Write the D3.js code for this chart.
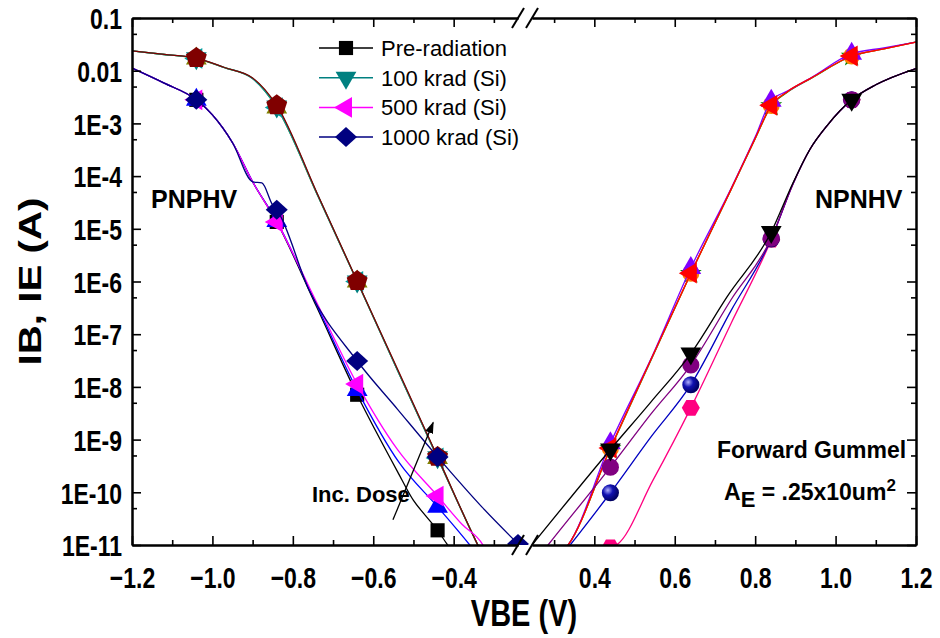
<!DOCTYPE html>
<html>
<head>
<meta charset="utf-8">
<script src="https://cdn.jsdelivr.net/npm/d3@7"></script>
<style>
  body { margin: 0; background: #fff; }
  svg { display: block; font-family: Arial, "Liberation Sans", sans-serif; }
  .lbl text { font-weight: bold; font-size: 23px; fill: #000; font-family: Arial, "Liberation Sans", sans-serif; }
  .axis path, .axis line { stroke: #000; }
</style>
</head>
<body>
<script>
// ---- tick values ----
const xMajorLeft = [-1.2, -1.0, -0.8, -0.6, -0.4];
const xMinorLeft = [-1.1, -0.9, -0.7, -0.5, -0.3];
const xMajorRight = [0.4, 0.6, 0.8, 1.0, 1.2];
const xMinorRight = [0.3, 0.5, 0.7, 0.9, 1.1];
const yMajor = [0.1, 0.01, 1e-3, 1e-4, 1e-5, 1e-6, 1e-7, 1e-8, 1e-9, 1e-10, 1e-11];
const yMinor = [5e-2, 5e-3, 5e-4, 5e-5, 5e-6, 5e-7, 5e-8, 5e-9, 5e-10, 5e-11];
const yLabels = ['0.1', '0.01', '1E-3', '1E-4', '1E-5', '1E-6', '1E-7', '1E-8', '1E-9', '1E-10', '1E-11'];

// marker voltages (symbols every 0.2 V)
const markVolts = [-1.04, -0.84, -0.64, -0.44, -0.24, 0.44, 0.64, 0.84, 1.04];

// ---- PNPHV, upper curves [VBE, I] ----
const pnpHiPre = [[-1.2, 0.0237], [-1.12, 0.0203], [-1.04, 0.0172], [-0.97, 0.0115], [-0.9, 0.0072], [-0.84, 0.0021], [-0.74, 4.7e-5], [-0.64, 1.0e-6], [-0.54, 2.1e-8], [-0.44, 4.6e-10], [-0.34, 1e-11], [-0.33, 7e-12]];
const pnpHi100 = [[-1.2, 0.0237], [-1.12, 0.0203], [-1.04, 0.0170], [-0.97, 0.0114], [-0.9, 0.0071], [-0.84, 0.0020], [-0.74, 4.6e-5], [-0.64, 1.0e-6], [-0.54, 2.1e-8], [-0.44, 4.5e-10], [-0.34, 1e-11], [-0.33, 7e-12]];
const pnpHi500 = [[-1.2, 0.0237], [-1.12, 0.0203], [-1.04, 0.0171], [-0.97, 0.0114], [-0.9, 0.0070], [-0.84, 0.0020], [-0.74, 4.6e-5], [-0.64, 1.0e-6], [-0.54, 2.1e-8], [-0.44, 4.5e-10], [-0.34, 1e-11], [-0.33, 7e-12]];
const pnpHi1000 = [[-1.2, 0.0237], [-1.12, 0.0204], [-1.04, 0.0174], [-0.97, 0.0115], [-0.9, 0.0073], [-0.84, 0.0022], [-0.74, 4.8e-5], [-0.64, 1.02e-6], [-0.54, 2.2e-8], [-0.44, 4.7e-10], [-0.34, 1e-11], [-0.33, 7e-12]];

// ---- PNPHV, lower curves ----
const pnpLoPre = [[-1.2, 0.0112], [-1.12, 0.0058], [-1.04, 0.0028], [-1.0, 0.00145], [-0.95, 4.3e-4], [-0.9, 7.8e-5], [-0.84, 1.35e-5], [-0.74, 3.2e-7], [-0.64, 7.1e-9], [-0.54, 2.5e-10], [-0.5, 7e-11], [-0.47, 3.6e-11], [-0.44, 1.9e-11], [-0.415, 1e-11], [-0.4, 7e-12]];
const pnpLo100 = [[-1.2, 0.0112], [-1.12, 0.0058], [-1.04, 0.0028], [-1.0, 0.00145], [-0.95, 4.3e-4], [-0.9, 7.8e-5], [-0.84, 1.4e-5], [-0.74, 3.5e-7], [-0.64, 8.7e-9], [-0.535, 3.6e-10], [-0.44, 5.3e-11], [-0.36, 1e-11], [-0.35, 8e-12]];
const pnpLo500 = [[-1.2, 0.0112], [-1.12, 0.0058], [-1.04, 0.0028], [-1.0, 0.00145], [-0.95, 4.3e-4], [-0.9, 7.8e-5], [-0.84, 1.35e-5], [-0.74, 3.9e-7], [-0.64, 1.13e-8], [-0.54, 6.5e-10], [-0.44, 8.5e-11], [-0.38, 2.5e-11], [-0.327, 1e-11], [-0.32, 8e-12]];
const pnpLo1000 = [[-1.2, 0.0112], [-1.12, 0.0058], [-1.04, 0.0028], [-1.0, 0.00145], [-0.95, 4.3e-4], [-0.9, 7.8e-5], [-0.877, 7.4e-5], [-0.85, 2.8e-5], [-0.84, 2.3e-5], [-0.76, 7e-7], [-0.64, 3.1e-8], [-0.54, 3.8e-9], [-0.44, 4.7e-10], [-0.33, 5.3e-11], [-0.24, 1.05e-11]];

// ---- NPNHV, upper curves ----
const npnHiGreen = [[0.325, 8e-12], [0.335, 1e-11], [0.44, 6.7e-10], [0.54, 3.1e-8], [0.64, 1.42e-6], [0.74, 5.5e-5], [0.8, 5.1e-4], [0.84, 2.15e-3], [0.88, 3.9e-3], [0.94, 7.2e-3], [1.04, 0.0188], [1.12, 0.026], [1.2, 0.035]];
const npnHiOrange = [[0.325, 8e-12], [0.335, 1e-11], [0.44, 6.8e-10], [0.54, 3.2e-8], [0.64, 1.43e-6], [0.74, 5.6e-5], [0.8, 5.2e-4], [0.84, 2.2e-3], [0.88, 4.0e-3], [0.94, 7.3e-3], [1.04, 0.019], [1.12, 0.026], [1.2, 0.035]];
const npnHiPurple = [[0.325, 8e-12], [0.335, 1e-11], [0.44, 8.5e-10], [0.54, 3.3e-8], [0.64, 1.8e-6], [0.74, 5.8e-5], [0.8, 5.5e-4], [0.84, 2.7e-3], [0.88, 4.1e-3], [0.94, 7.4e-3], [1.04, 0.021], [1.12, 0.027], [1.2, 0.035]];
const npnHiRed = [[0.325, 8e-12], [0.335, 1e-11], [0.44, 6.9e-10], [0.54, 3.2e-8], [0.64, 1.44e-6], [0.74, 5.6e-5], [0.8, 5.2e-4], [0.84, 2.2e-3], [0.88, 4.0e-3], [0.94, 7.3e-3], [1.04, 0.019], [1.12, 0.026], [1.2, 0.035]];

// ---- NPNHV, lower curves ----
const npnLoBlack = [[0.245, 1e-11], [0.44, 6.5e-10], [0.54, 5.1e-9], [0.64, 4.3e-8], [0.73, 5.1e-7], [0.84, 8.7e-6], [0.894, 7.4e-5], [0.936, 3.2e-4], [0.98, 9.3e-4], [1.04, 0.0028], [1.1, 5.4e-3], [1.2, 0.011]];
const npnLoPurple = [[0.275, 8e-12], [0.285, 1e-11], [0.44, 3e-10], [0.54, 3e-9], [0.64, 2.6e-8], [0.74, 4.5e-7], [0.84, 6.6e-6], [0.894, 7.2e-5], [0.936, 3.2e-4], [0.98, 9.3e-4], [1.04, 0.0028], [1.1, 5.4e-3], [1.2, 0.011]];
const npnLoBlue = [[0.33, 8e-12], [0.34, 1e-11], [0.44, 9.8e-11], [0.54, 1.1e-9], [0.64, 1.1e-8], [0.74, 2.8e-7], [0.84, 6.4e-6], [0.894, 7.1e-5], [0.936, 3.2e-4], [0.98, 9.3e-4], [1.04, 0.0028], [1.1, 5.4e-3], [1.2, 0.011]];
const npnLoPink = [[0.44, 9e-12], [0.455, 1e-11], [0.546, 1.7e-10], [0.64, 4e-9], [0.74, 1.6e-7], [0.84, 6.2e-6], [0.894, 7e-5], [0.936, 3.2e-4], [0.98, 9.3e-4], [1.04, 0.0028], [1.1, 5.4e-3], [1.2, 0.011]];

const legendNames = ['Pre-radiation', '100 krad (Si)', '500 krad (Si)', '1000 krad (Si)'];

// symbol shapes -----------------------------------------------------------
function poly(n, r, rot) {
  const pts = d3.range(n).map(i => {
    const a = rot + i * 2 * Math.PI / n;
    return [r * Math.sin(a), -r * Math.cos(a)];
  });
  return 'M' + pts.join('L') + 'Z';
}
const shapes = {
  square: poly(4, 10, Math.PI / 4),
  up: poly(3, 12, 0),
  down: poly(3, 12, Math.PI),
  left: poly(3, 12, -Math.PI / 2),
  diamond: 'M-11,0L0,-10L11,0L0,10Z',
  pentagon: poly(5, 11, 0),
  hexagon: poly(6, 9, Math.PI / 6),
  circle: d3.symbol(d3.symbolCircle, 230)(),
  star: d3.symbol(d3.symbolStar, 150)()
};

// drawn in this order (later on top)
const series = [
  { data: pnpHiPre, color: '#008080', shape: 'down' },
  { data: pnpHi100, color: '#808000', shape: 'up' },
  { data: pnpHi500, color: '#00A0A0', shape: 'left' },
  { data: pnpHi1000, color: '#800000', shape: 'pentagon' },
  { data: pnpLoPre, color: '#000000', shape: 'square' },
  { data: pnpLo100, color: '#0000FF', shape: 'up' },
  { data: pnpLo500, color: '#FF00FF', shape: 'left' },
  { data: pnpLo1000, color: '#000080', shape: 'diamond' },
  { data: npnHiGreen, color: '#008000', shape: 'star' },
  { data: npnHiOrange, color: '#FF8000', shape: 'circle' },
  { data: npnHiPurple, color: '#8000FF', shape: 'up' },
  { data: npnHiRed, color: '#FF0000', shape: 'left' },
  { data: npnLoPink, color: '#FF0080', shape: 'hexagon' },
  { data: npnLoBlue, color: 'url(#sphere)', stroke: '#0000C0', shape: 'circle' },
  { data: npnLoPurple, color: '#800080', shape: 'circle' },
  { data: npnLoBlack, color: '#000000', shape: 'down' }
];

const legendItems = [
  { name: legendNames[0], color: '#000000', shape: 'square' },
  { name: legendNames[1], color: '#008080', shape: 'down' },
  { name: legendNames[2], color: '#FF00FF', shape: 'left' },
  { name: legendNames[3], color: '#000080', shape: 'diamond' }
];

// layout -------------------------------------------------------------------
const W = 940, H = 638;
const plot = { left: 132, right: 916, top: 18, bottom: 545, breakL: 518, breakR: 532 };
const stretch = 1.3; // text in the original is drawn taller than wide

const svg = d3.select('body').append('svg').attr('width', W).attr('height', H);
const defs = svg.append('defs');
defs.append('clipPath').attr('id', 'clip').append('rect')
  .attr('x', plot.left).attr('y', plot.top)
  .attr('width', plot.right - plot.left).attr('height', plot.bottom - plot.top);
const grad = defs.append('radialGradient').attr('id', 'sphere')
  .attr('cx', '35%').attr('cy', '35%').attr('r', '65%');
grad.append('stop').attr('offset', '0%').attr('stop-color', '#B0B0FF');
grad.append('stop').attr('offset', '45%').attr('stop-color', '#1010B0');
grad.append('stop').attr('offset', '100%').attr('stop-color', '#000060');

const xLeft = d3.scaleLinear().domain([-1.2, -0.24]).range([plot.left, plot.breakL]);
const xRight = d3.scaleLinear().domain([0.245, 1.2]).range([plot.breakR, plot.right]);
const xPos = v => (v < 0 ? xLeft(v) : xRight(v));
const y = d3.scaleLog().domain([1e-11, 0.1]).range([plot.bottom, plot.top]);

// data ---------------------------------------------------------------------
const line = d3.line()
  .x(d => xPos(d[0]))
  .y(d => y(d[1]))
  .curve(d3.curveMonotoneX);

const dataG = svg.append('g').attr('clip-path', 'url(#clip)');
series.forEach(s => {
  const g = dataG.append('g');
  g.append('path')
    .attr('d', line(s.data))
    .attr('fill', 'none')
    .attr('stroke', s.stroke || s.color)
    .attr('stroke-width', 1.3);
  g.selectAll('path.mk')
    .data(s.data.filter(d => markVolts.some(m => Math.abs(m - d[0]) < 1e-6)))
    .join('path')
    .attr('class', 'mk')
    .attr('d', shapes[s.shape])
    .attr('transform', d => `translate(${xPos(d[0])},${y(d[1])})`)
    .attr('fill', s.color);
});

// axes -------------------------------------------------------------------
function addAxis(axis, tx, ty, cls) {
  const g = svg.append('g').attr('class', 'axis ' + (cls || ''))
    .attr('transform', `translate(${tx},${ty})`).call(axis);
  g.select('.domain').attr('stroke-width', 2);
  g.selectAll('.tick line').attr('stroke-width', 1.6);
  return g;
}

// bottom / top
[[xLeft, xMajorLeft, xMinorLeft], [xRight, xMajorRight, xMinorRight]].forEach(([sc, maj, min]) => {
  const ax = addAxis(d3.axisBottom(sc).tickValues(maj).tickSizeInner(-9).tickSizeOuter(0)
    .tickPadding(22).tickFormat(d3.format('.1f')), 0, plot.bottom, 'lbl');
  ax.selectAll('.tick text')
    .attr('y', 0).attr('dy', '0.72em')
    .attr('transform', `translate(0,21) scale(1,${stretch})`);
  addAxis(d3.axisBottom(sc).tickValues(min).tickSizeInner(-5).tickSizeOuter(0).tickFormat(''), 0, plot.bottom);
  addAxis(d3.axisTop(sc).tickValues(maj).tickSizeInner(-9).tickSizeOuter(0).tickFormat(''), 0, plot.top);
  addAxis(d3.axisTop(sc).tickValues(min).tickSizeInner(-5).tickSizeOuter(0).tickFormat(''), 0, plot.top);
});

// left / right
const yAx = addAxis(d3.axisLeft(y).tickValues(yMajor).tickSizeInner(-9).tickSizeOuter(0).tickPadding(10)
  .tickFormat((d, i) => yLabels[i]), plot.left, 0, 'lbl');
yAx.selectAll('.tick text').attr('dy', '0.36em').attr('transform', `scale(1,${stretch})`);
addAxis(d3.axisLeft(y).tickValues(yMinor).tickSizeInner(-5).tickSizeOuter(0).tickFormat(''), plot.left, 0);
addAxis(d3.axisRight(y).tickValues(yMajor).tickSizeInner(-9).tickSizeOuter(0).tickFormat(''), plot.right, 0);
addAxis(d3.axisRight(y).tickValues(yMinor).tickSizeInner(-5).tickSizeOuter(0).tickFormat(''), plot.right, 0);

// axis break marks
[plot.top, plot.bottom].forEach(yy => {
  [plot.breakL, plot.breakR].forEach(xx => {
    svg.append('line')
      .attr('x1', xx - 6).attr('y1', yy + 10)
      .attr('x2', xx + 6).attr('y2', yy - 10)
      .attr('stroke', '#000').attr('stroke-width', 2);
  });
});

// titles -------------------------------------------------------------------
svg.append('text')
  .attr('transform', `translate(${(plot.left + plot.right) / 2},626) scale(1,${stretch})`)
  .attr('text-anchor', 'middle')
  .attr('font-weight', 'bold').attr('font-size', 29)
  .text('VBE (V)');
svg.append('text')
  .attr('transform', `translate(41,${(plot.top + plot.bottom) / 2}) rotate(-90) scale(${stretch},1)`)
  .attr('text-anchor', 'middle')
  .attr('font-weight', 'bold').attr('font-size', 31)
  .text('IB, IE (A)');

// annotations
const note = (x, yy, txt, size) => svg.append('text')
  .attr('x', x).attr('y', yy)
  .attr('font-weight', 'bold').attr('font-size', size).text(txt);
note(151, 208, 'PNPHV', 25);
note(815, 208, 'NPNHV', 25);
note(312, 502, 'Inc. Dose', 22);
note(717, 458, 'Forward Gummel', 23);
const ae = note(724, 500, 'A', 23);
ae.append('tspan').attr('dy', 7).attr('font-size', 22).text('E');
ae.append('tspan').attr('dy', -7).text(' = .25x10um');
ae.append('tspan').attr('dy', -9).attr('font-size', 17).text('2');

// Inc. Dose arrow
defs.append('marker').attr('id', 'arrow')
  .attr('viewBox', '0 0 10 10').attr('refX', 9).attr('refY', 5)
  .attr('markerWidth', 9).attr('markerHeight', 9).attr('orient', 'auto')
  .append('path').attr('d', 'M0,1.5L10,5L0,8.5Z').attr('fill', '#000');
svg.append('line')
  .attr('x1', xLeft(-0.551)).attr('y1', y(3e-11))
  .attr('x2', xLeft(-0.451)).attr('y2', y(2.1e-9))
  .attr('stroke', '#000').attr('stroke-width', 1.3)
  .attr('marker-end', 'url(#arrow)');

// legend -------------------------------------------------------------------
const leg = svg.append('g').attr('transform', 'translate(319,48)');
legendItems.forEach((d, i) => {
  const g = leg.append('g').attr('transform', `translate(0,${i * 29.7})`);
  g.append('line').attr('x1', 0).attr('x2', 54).attr('stroke', d.color).attr('stroke-width', 1.5);
  g.append('path').attr('d', shapes[d.shape]).attr('transform', 'translate(27,0)').attr('fill', d.color);
  g.append('text').attr('x', 62).attr('y', 8).attr('font-size', 22).text(d.name);
});
</script>
</body>
</html>
